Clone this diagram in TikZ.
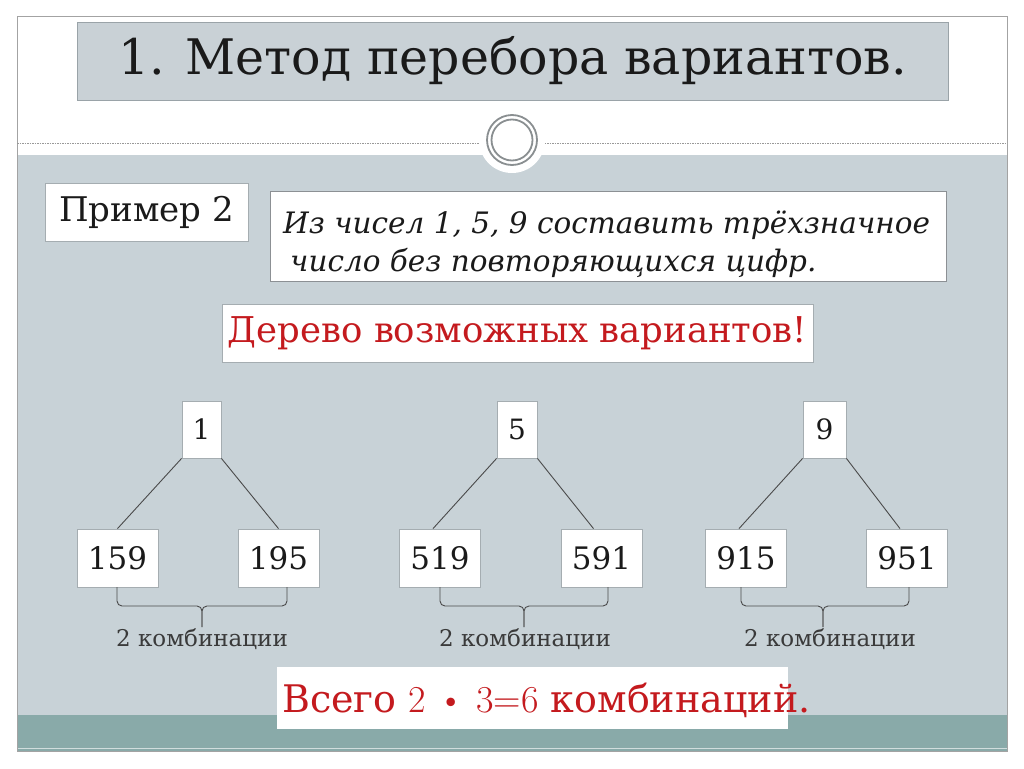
\documentclass[tikz,border=0pt]{standalone}
\usepackage{fontspec}
\setmainfont{DejaVu Serif}
\newfontfamily\lmfont{Latin Modern Roman}
\definecolor{panel}{HTML}{C8D2D7}
\definecolor{titlefill}{HTML}{C9D1D6}
\definecolor{titleline}{HTML}{9AA3A8}
\definecolor{bandcol}{HTML}{89AAA9}
\definecolor{frameline}{HTML}{A3A3A3}
\definecolor{boxline}{HTML}{A5ADB1}
\definecolor{textboxline}{HTML}{8C9094}
\definecolor{redtxt}{HTML}{C41A1E}
\definecolor{darktxt}{HTML}{1A1A1A}
\definecolor{labeltxt}{HTML}{3A3A3A}
\definecolor{linecol}{HTML}{4A4A4A}
\definecolor{ringcol}{HTML}{8A8F91}
\newcommand\fsz[1]{\fontsize{#1}{1.2\dimexpr #1pt\relax}\selectfont}
\begin{document}
\begin{tikzpicture}[x=1pt,y=-1pt,
  wbox/.style={draw=boxline, fill=white, line width=0.8pt, inner sep=0pt},
  rootbox/.style={wbox, minimum height=57pt, font=\fsz{28}, text=darktxt},
  leafbox/.style={wbox, minimum width=81pt, minimum height=58pt, font=\fsz{31}, text=darktxt},
  edge/.style={draw=linecol, line width=0.9pt},
  bracket/.style={draw=linecol, line width=0.9pt, rounded corners=5pt},
  combo/.style={font=\fsz{23}, text=labeltxt, anchor=base, inner sep=0pt}
]
\useasboundingbox (0,0) rectangle (1024,768);
\fill[white] (0,0) rectangle (1024,768);
% slide background
\fill[panel] (17,155) rectangle (1007,715);
\fill[bandcol] (17,715) rectangle (1007,751);
\draw[white!60!bandcol, line width=1pt] (17,748.5) -- (1007,748.5);
\draw[frameline, line width=1pt] (17,17) rectangle (1007,751);
\draw[gray!80, line width=0.8pt, dash pattern=on 1.5pt off 1pt] (17,143) -- (1007,143);
\fill[white] (512,140) circle (33pt);
\draw[ringcol, line width=1.8pt] (512,140) circle (25pt);
\draw[ringcol, line width=1.8pt] (512,140) circle (20.5pt);

% title
\node[fill=titlefill, draw=titleline, line width=0.8pt, minimum width=871pt, minimum height=78pt, inner sep=0pt,
      font=\fsz{49}, text=darktxt] (title) at (512.5,61) {1. Метод перебора вариантов.};

% example label
\node[wbox, minimum width=203pt, minimum height=58pt, font=\fsz{34}, text=darktxt] (ex) at (146.5,212) {Пример 2};

% task box
\node[wbox, draw=textboxline, minimum width=676pt, minimum height=90pt] (task) at (608,236) {};
\node[anchor=base west, inner sep=0pt, font=\fsz{29.5}\itshape, text=darktxt] (l1) at (283,233) {Из чисел 1, 5, 9 составить трёхзначное};
\node[anchor=base west, inner sep=0pt, font=\fsz{29.5}\itshape, text=darktxt] (l2) at (290,271) {число без повторяющихся цифр.};

% tree heading
\node[wbox, minimum width=591pt, minimum height=58pt, font=\fsz{35.5}, text=redtxt] (tree) at (517.5,333) {Дерево возможных вариантов!};

% tree 1
\node[rootbox, minimum width=39pt] (r1) at (201.5,429.5) {1};
\node[leafbox] (a1) at (117.5,558) {159};
\node[leafbox] (b1) at (278.5,558) {195};
\draw[edge] (r1.south west) -- (a1.north);
\draw[edge] (r1.south east) -- (b1.north);
% tree 2
\node[rootbox, minimum width=40pt] (r2) at (517,429.5) {5};
\node[leafbox] (a2) at (440,558) {519};
\node[leafbox] (b2) at (601.5,558) {591};
\draw[edge] (r2.south west) -- ([xshift=-7pt]a2.north);
\draw[edge] (r2.south east) -- ([xshift=-8pt]b2.north);
% tree 3
\node[rootbox, minimum width=43pt] (r3) at (824.5,429.5) {9};
\node[leafbox] (a3) at (746,558) {915};
\node[leafbox] (b3) at (907,558) {951};
\draw[edge] (r3.south west) -- ([xshift=-7pt]a3.north);
\draw[edge] (r3.south east) -- ([xshift=-7pt]b3.north);

% brackets
\coordinate (p1l) at (117,587); \coordinate (p1r) at (287,587); \coordinate (p1m) at (202,606); \coordinate (p1t) at (202,627);
\coordinate (p2l) at (440,587); \coordinate (p2r) at (608,587); \coordinate (p2m) at (524,606); \coordinate (p2t) at (524,627);
\coordinate (p3l) at (741,587); \coordinate (p3r) at (909,587); \coordinate (p3m) at (823,606); \coordinate (p3t) at (823,627);
\foreach \i in {1,2,3}{
  \draw[bracket] (p\i l) |- (p\i m) -- (p\i t);
  \draw[bracket] (p\i r) |- (p\i m) -- (p\i t);
}
\node[combo] (c1) at (202,646) {2 комбинации};
\node[combo] (c2) at (525,646) {2 комбинации};
\node[combo] (c3) at (830,646) {2 комбинации};

% total
\node[fill=white, inner sep=0pt, minimum width=511pt, minimum height=62pt] (totbox) at (532.5,698) {};
\node[anchor=base west, inner sep=0pt, font=\fsz{38}, text=redtxt] (total) at (282,712)
  {Всего {\lmfont 2 \textbullet\ 3=6} комбинаций.};
\end{tikzpicture}
\end{document}
